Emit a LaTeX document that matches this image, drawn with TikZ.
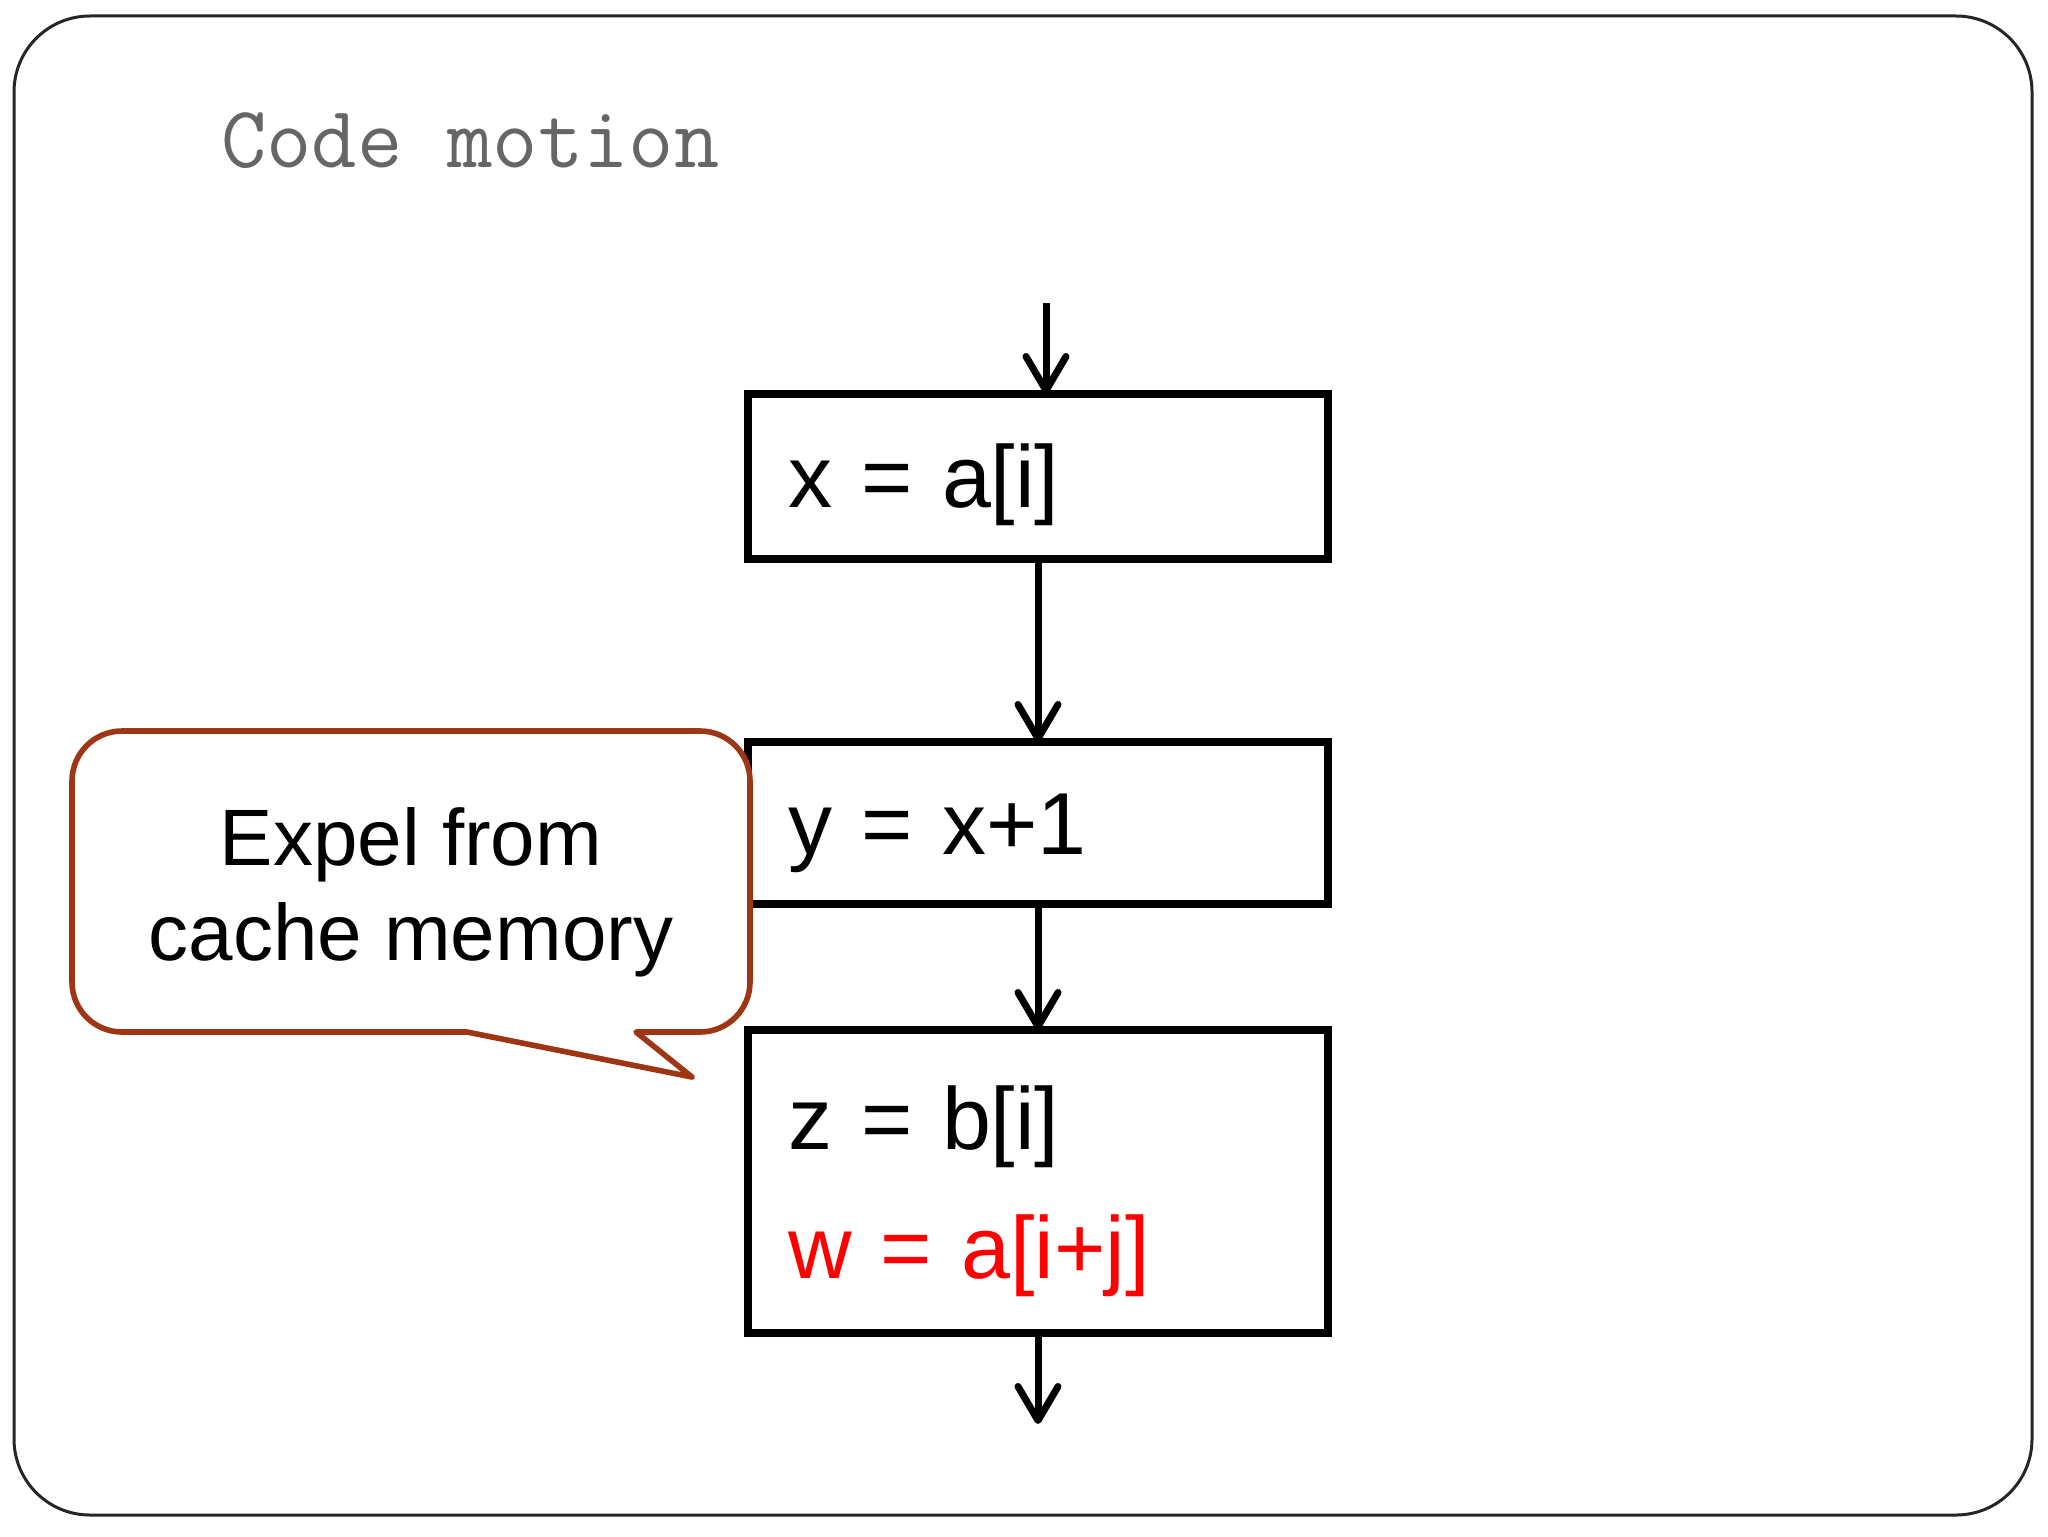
\documentclass[tikz,border=0pt]{standalone}
\usepackage{fontspec}
\setmainfont{Liberation Sans}
\usepackage{xcolor}
\usetikzlibrary{arrows.meta,positioning}
\definecolor{notebrown}{RGB}{158,54,22}
\definecolor{titlegray}{RGB}{102,102,102}

\begin{document}
\begin{tikzpicture}[
      x=0.5pt, y=-0.5pt,
      node distance=60pt,
      block/.style={draw, line width=4pt, outer sep=0pt, inner xsep=20pt,
                    text width=250pt, align=left, minimum height=82.5pt,
                    text height=40pt, text depth=9pt,
                    font=\fontsize{44pt}{64.5pt}\selectfont},
      note/.style={align=center, font=\fontsize{40pt}{47.5pt}\selectfont},
      arr/.style={-{Straight Barb[length=17pt, width=20pt, round]},
                  line width=3.5pt}
    ]
    \useasboundingbox (0,0) rectangle (2048,1536);
    \draw[line width=1.5pt, black!85, rounded corners=38pt]
      (14,16) rectangle (2032,1515);

    \node[anchor=base west, text=titlegray,
          font=\ttfamily\fontsize{44pt}{50pt}\selectfont]
      (title) at (214,167) {Code motion};

    \node[block] (load) at (1038,476.5) {x = a[i]};
    \node[block, minimum height=81pt, below=91.5pt of load] (incr) {y = x+1};
    \node[block, minimum height=151.5pt, text depth=72pt,
          below=63pt of incr] (body)
      {z = b[i]\\ \textcolor{red}{w = a[i+j]}};

    \coordinate (entry) at (1046,303);
    \coordinate (exit) at (1038,1424);
    \draw[arr] (entry) -- (entry |- load.north);
    \foreach \a/\b in {load/incr, incr/body}
      \draw[arr] (\a) -- (\b);
    \draw[arr] (body) -- (exit);

    % speech bubble over the left edge of the middle box
    \draw[notebrown, line width=2.8pt, fill=white, line join=round]
      (122,731) -- (700,731) arc[start angle=-90, end angle=0, radius=50]
      -- (750,982) arc[start angle=0, end angle=90, radius=50]
      -- (636,1032) -- (692,1077) -- (467,1032)
      -- (122,1032) arc[start angle=90, end angle=180, radius=50]
      -- (72,781) arc[start angle=180, end angle=270, radius=50] -- cycle;
    \node[note] (memo) at (411,892) {Expel from\\ cache memory};
  \end{tikzpicture}
\end{document}
